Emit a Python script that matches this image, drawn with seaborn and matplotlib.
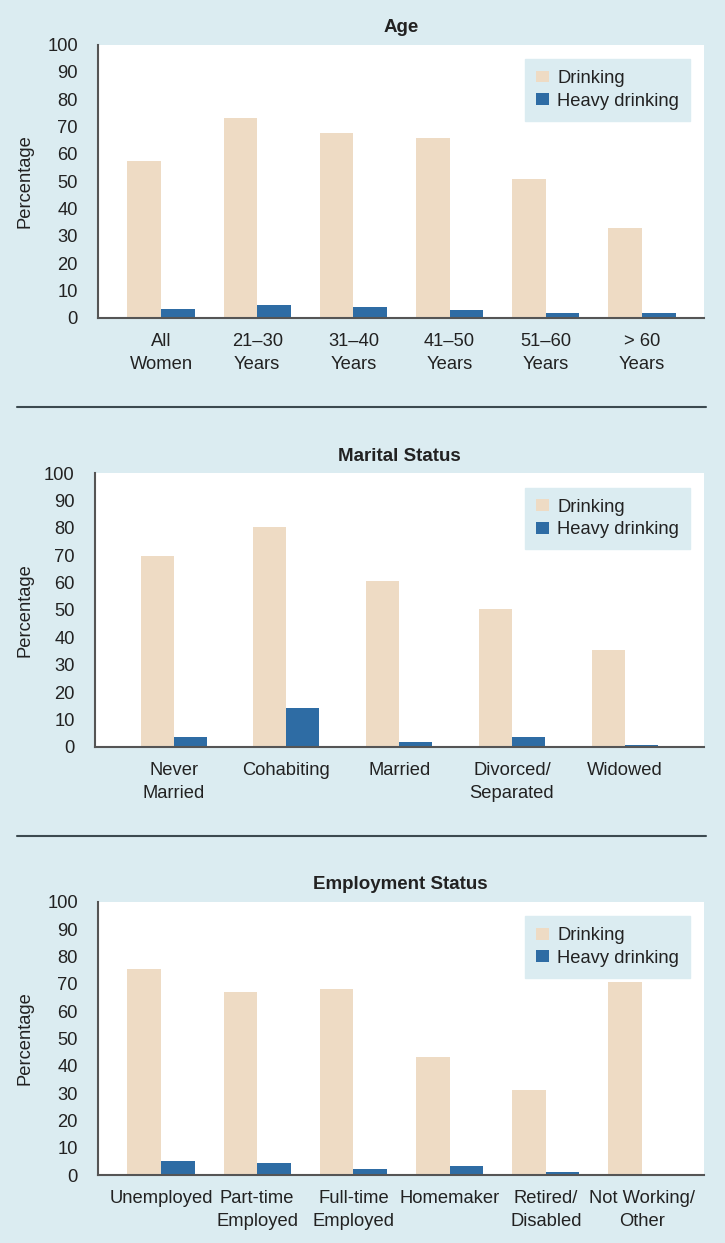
import pandas as pd
import matplotlib.pyplot as plt
import seaborn as sns
from matplotlib.lines import Line2D

# data
age_groups = ["All\nWomen", "21–30\nYears", "31–40\nYears", "41–50\nYears", "51–60\nYears", "> 60\nYears"]
age_drinking = [57.5, 73.1, 67.6, 65.8, 50.7, 32.8]
age_heavy = [3.2, 4.7, 3.9, 2.8, 1.7, 1.7]

marital_groups = ["Never\nMarried", "Cohabiting", "Married", "Divorced/\nSeparated", "Widowed"]
marital_drinking = [69.8, 80.2, 60.7, 50.2, 35.2]
marital_heavy = [3.4, 14.3, 1.6, 3.4, 0.6]

employment_groups = ["Unemployed", "Part-time\nEmployed", "Full-time\nEmployed", "Homemaker",
                     "Retired/\nDisabled", "Not Working/\nOther"]
employment_drinking = [75.2, 67.0, 68.0, 43.0, 31.1, 70.6]
employment_heavy = [5.2, 4.4, 2.3, 3.3, 1.2, 0.0]

series_names = ["Drinking", "Heavy drinking"]

bg = "#dbecf1"
beige = "#eedbc4"
blue = "#2e6ca4"
axis_grey = "#555555"
text_col = "#222222"

sns.set_style("white")
plt.rcParams["font.family"] = ["Liberation Sans", "DejaVu Sans"]
plt.rcParams["text.color"] = text_col
plt.rcParams["axes.labelcolor"] = text_col
plt.rcParams["xtick.color"] = text_col
plt.rcParams["ytick.color"] = text_col

W, H = 725, 1243
fig = plt.figure(figsize=(W / 100, H / 100), dpi=100, facecolor=bg)

panels = [
    ("Age", age_groups, age_drinking, age_heavy, (98, 44.5, 703.6, 318), 0.70, (-0.655, 5.64)),
    ("Marital Status", marital_groups, marital_drinking, marital_heavy, (94.8, 473.3, 703.6, 746.7), 0.586, (-0.70, 4.70)),
    ("Employment Status", employment_groups, employment_drinking, employment_heavy, (98, 901.7, 703.6, 1175), 0.70, (-0.655, 5.64)),
]

fs = 13.2

for title, groups, drink, heavy, (x0, y0, x1, y1), bw, xlim in panels:
    ax = fig.add_axes([x0 / W, 1 - y1 / H, (x1 - x0) / W, (y1 - y0) / H])
    df = pd.DataFrame({
        "group": groups * 2,
        "value": drink + heavy,
        "measure": [series_names[0]] * len(groups) + [series_names[1]] * len(groups),
    })
    sns.barplot(data=df, x="group", y="value", hue="measure", palette=[beige, blue],
                width=bw, saturation=1, errorbar=None, linewidth=0, ax=ax)
    ax.set_facecolor("white")
    ax.set_xlim(*xlim)
    ax.set_ylim(0, 100)
    ax.set_yticks(range(0, 101, 10))
    ax.set_title(title, fontsize=13.5, fontweight="bold", pad=9)
    ax.set_xlabel("")
    ax.set_ylabel("Percentage", fontsize=fs)
    ax.yaxis.label.set_va("center")
    ax.yaxis.set_label_coords((25 - x0) / (x1 - x0), 0.5)
    for s in ["top", "right"]:
        ax.spines[s].set_visible(False)
    for s in ["left", "bottom"]:
        ax.spines[s].set_color(axis_grey)
        ax.spines[s].set_linewidth(1.5)
    ax.tick_params(axis="y", length=10, width=1.3, color=axis_grey, pad=4.5, labelsize=fs)
    ax.tick_params(axis="x", length=0, pad=11, labelsize=fs)
    for lab in ax.get_xticklabels():
        lab.set_linespacing(1.45)
    sns.move_legend(ax, "upper right",
                    bbox_to_anchor=((690 - x0) / (x1 - x0), 1 - 14.5 / (y1 - y0)),
                    borderaxespad=0, title=None, frameon=True, fancybox=False,
                    facecolor=bg, edgecolor=bg, framealpha=1, fontsize=fs,
                    handlelength=0.72, handleheight=0.62, handletextpad=0.42,
                    labelspacing=0.3, borderpad=0.6)

# separator lines between panels
for y in (406.7, 835.7):
    fig.add_artist(Line2D([17 / W, 705.5 / W], [1 - y / H, 1 - y / H],
                          color="#3c4a50", linewidth=1.5))

fig.savefig("out.png", dpi=100, facecolor=fig.get_facecolor())
